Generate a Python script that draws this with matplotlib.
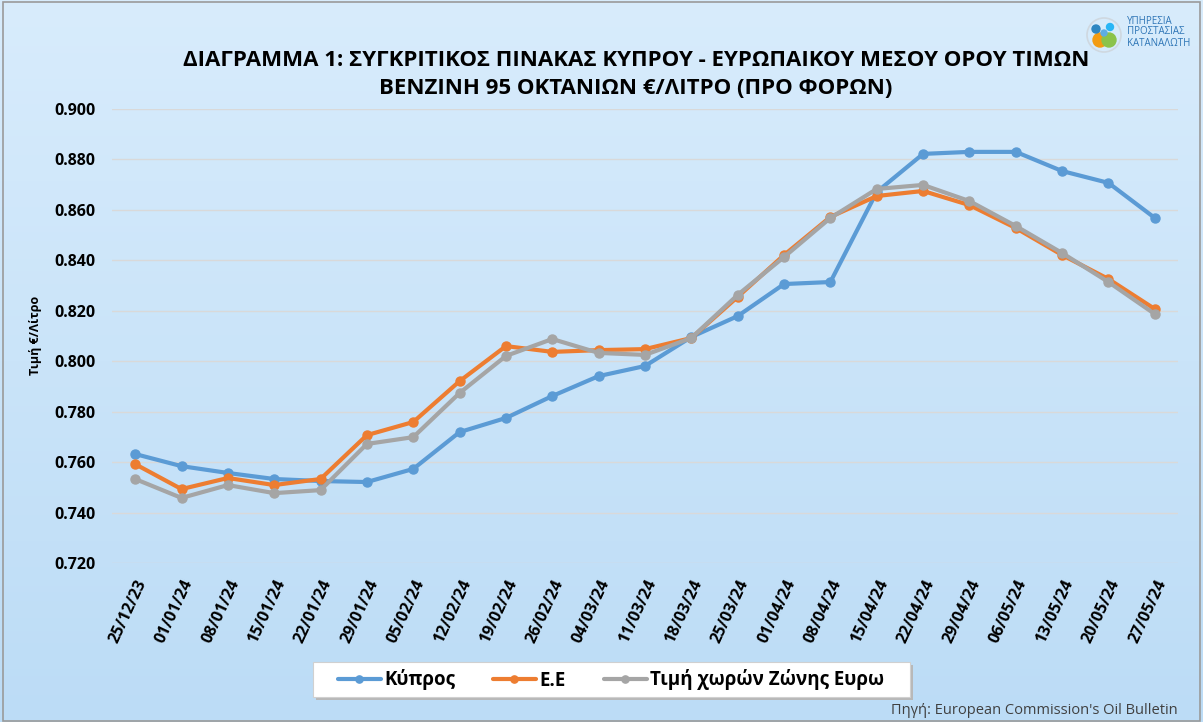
import matplotlib
matplotlib.use("Agg")
import matplotlib.pyplot as plt
import numpy as np
from matplotlib.patches import Rectangle, Ellipse
from matplotlib.colors import LinearSegmentedColormap

dates = ["25/12/23", "01/01/24", "08/01/24", "15/01/24", "22/01/24", "29/01/24",
         "05/02/24", "12/02/24", "19/02/24", "26/02/24", "04/03/24", "11/03/24",
         "18/03/24", "25/03/24", "01/04/24", "08/04/24", "15/04/24", "22/04/24",
         "29/04/24", "06/05/24", "13/05/24", "20/05/24", "27/05/24"]

cyprus = [0.7632, 0.7584, 0.7557, 0.7533, 0.7525, 0.7521, 0.7573, 0.7719, 0.7775,
          0.7862, 0.7941, 0.7981, 0.8096, 0.8179, 0.8306, 0.8314, 0.8671, 0.8822,
          0.8830, 0.8830, 0.8754, 0.8707, 0.8568]
eu = [0.7592, 0.7493, 0.7537, 0.7509, 0.7533, 0.7707, 0.7759, 0.7921, 0.8060,
      0.8037, 0.8044, 0.8048, 0.8092, 0.8255, 0.8421, 0.8572, 0.8655, 0.8675,
      0.8619, 0.8528, 0.8421, 0.8326, 0.8207]
eurozone = [0.7533, 0.7458, 0.7509, 0.7477, 0.7489, 0.7672, 0.7699, 0.7874, 0.8021,
            0.8088, 0.8033, 0.8025, 0.8092, 0.8263, 0.8413, 0.8568, 0.8683, 0.8699,
            0.8635, 0.8536, 0.8429, 0.8314, 0.8187]

series_names = ["Κύπρος", "Ε.Ε", "Τιμή χωρών Ζώνης Ευρω"]
colors = ["#5B9BD5", "#ED7D31", "#A5A5A5"]

plt.rcParams['font.family'] = ['Open Sans', 'DejaVu Sans']

W, H = 1203, 722
fig = plt.figure(figsize=(W / 100, H / 100), dpi=100)

# background gradient (pixel coordinates, y downward)
bg = fig.add_axes([0, 0, 1, 1], zorder=-10)
grad = np.linspace(0, 1, 256).reshape(-1, 1)
cmap = LinearSegmentedColormap.from_list("bg", ["#d8ecfc", "#bcdcf6"])
bg.imshow(grad, aspect='auto', cmap=cmap, extent=[0, W, H, 0])
bg.set_xlim(0, W); bg.set_ylim(H, 0)
bg.axis('off')
bg.add_patch(Rectangle((3, 2), W - 6, H - 3, fill=False, edgecolor="#9a9a9a", lw=1.2))

# logo
bg.add_patch(Ellipse((1104, 35), 34, 34, fill=False, edgecolor="#cfd8e0", lw=1.2))
for (cx, cy, r, c) in [(1100, 40, 7, "#F39C12"), (1109, 40, 7, "#8BC34A"),
                       (1096, 29, 4, "#2E86C1"), (1110, 27, 3.5, "#29B6F6"),
                       (1104, 33, 3, "#5DADE2")]:
    bg.add_patch(Ellipse((cx, cy), 2 * r, 2 * r, color=c))
bg.text(1127, 32, "ΥΠΗΡΕΣΙΑ\nΠΡΟΣΤΑΣΙΑΣ\nΚΑΤΑΝΑΛΩΤΗ", fontsize=7,
        color="#2E75B6", va='center', ha='left', linespacing=1.0)

ax = fig.add_axes([112 / W, 159 / H, (1178 - 112) / W, (563 - 109) / H])
ax.set_facecolor('none')
x = np.arange(len(dates))
for vals, name, c in zip([cyprus, eu, eurozone], series_names, colors):
    ax.plot(x, vals, color=c, lw=3, marker='o', markersize=6.5, label=name,
            solid_capstyle='round')

ax.set_xlim(-0.5, len(dates) - 0.5)
ax.set_ylim(0.72, 0.90)
yt = np.arange(0.72, 0.9001, 0.02)
ax.set_yticks(yt)
ax.set_yticklabels([f"{v:.3f}" for v in yt], fontsize=11.5, fontweight='bold')
ax.set_xticks(x)
ax.set_xticklabels(dates, rotation=65, fontsize=11.5, fontweight='bold',
                   ha='right', rotation_mode='anchor')
ax.tick_params(axis='y', length=0, pad=12)
ax.tick_params(axis='x', length=0, pad=10)
ax.grid(axis='y', color="#d9d9d9", lw=1)
ax.set_axisbelow(True)
for s in ax.spines.values():
    s.set_visible(False)

fig.text(36 / W, 1 - 335 / H, "Τιμή €/Λίτρο", rotation=90, fontsize=9,
         fontweight='bold', ha='center', va='center')

fig.text(636 / W, 1 - 60 / H, "ΔΙΑΓΡΑΜΜΑ 1: ΣΥΓΚΡΙΤΙΚΟΣ ΠΙΝΑΚΑΣ ΚΥΠΡΟΥ - ΕΥΡΩΠΑΙΚΟΥ ΜΕΣΟΥ ΟΡΟΥ ΤΙΜΩΝ",
         fontsize=16, fontweight='bold', ha='center', va='center')
fig.text(636 / W, 1 - 88 / H, "ΒΕΝΖΙΝΗ 95 ΟΚΤΑΝΙΩΝ €/ΛΙΤΡΟ (ΠΡΟ ΦΟΡΩΝ)",
         fontsize=16, fontweight='bold', ha='center', va='center')

# legend box with shadow
bg.add_patch(Rectangle((316, 665), 597, 35, facecolor="#b8b8b8", edgecolor='none', zorder=1))
bg.add_patch(Rectangle((313, 662), 597, 35, facecolor="white", edgecolor='#d0d0d0',
                       lw=0.8, zorder=2))
fig.legend(loc='center', bbox_to_anchor=(611 / W, 1 - 680 / H), ncol=3,
           frameon=False, prop={'size': 13.5, 'weight': 'bold'},
           handlelength=2.3, columnspacing=2.0, handletextpad=0.2,
           markerscale=0.8)

fig.text(1178 / W, 1 - 710 / H, "Πηγή: European Commission's Oil Bulletin",
         fontsize=10.5, color="#404040", ha='right', va='center')

fig.savefig("out.png", dpi=100)
